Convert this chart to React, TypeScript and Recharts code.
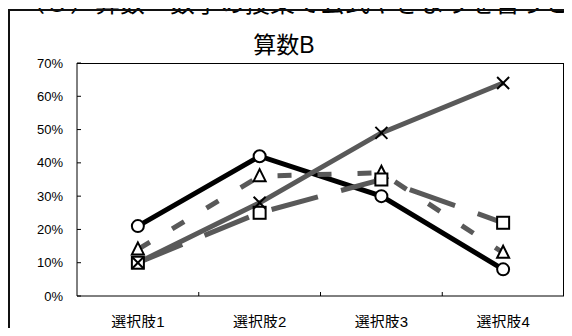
import { LineChart, Line, XAxis, YAxis } from 'recharts'

// 算数B: response rate per choice (%)
const categories = ['選択肢1', '選択肢2', '選択肢3', '選択肢4']
const circleSeries = [21, 42, 30, 8]
const triangleSeries = [14, 36, 37, 13]
const squareSeries = [10, 25, 35, 22]
const crossSeries = [10, 28, 49, 64]
const yTicks = [0, 10, 20, 30, 40, 50, 60, 70]

const data = categories.map((name, i) => ({
  name,
  circle: circleSeries[i],
  triangle: triangleSeries[i],
  square: squareSeries[i],
  cross: crossSeries[i],
}))

const W = 572
const H = 336
const PLOT_LEFT = 77
const PLOT_RIGHT = 564
const PLOT_TOP = 63
const PLOT_BOTTOM = 296
const HALF_BAND = (PLOT_RIGHT - PLOT_LEFT) / categories.length / 2
const FONT = '"Liberation Sans", Arial, "Noto Sans CJK JP", sans-serif'
const GRAY = '#595959'

const YTick = (props: any) => {
  const { y, payload } = props
  return (
    <g>
      <line x1={PLOT_LEFT} x2={PLOT_LEFT + 4} y1={y} y2={y} stroke="#000" strokeWidth={1} />
      <text x={PLOT_LEFT - 14} y={y} textAnchor="end" dominantBaseline="central" fontSize={13} fontFamily={FONT} fill="#000">
        {payload.value}%
      </text>
    </g>
  )
}

const XTick = (props: any) => {
  const { x, payload, index } = props
  return (
    <g>
      {index < categories.length - 1 && (
        <line x1={x + HALF_BAND} x2={x + HALF_BAND} y1={PLOT_BOTTOM} y2={PLOT_BOTTOM - 4} stroke="#000" strokeWidth={1} />
      )}
      <text x={x} y={PLOT_BOTTOM + 25} textAnchor="middle" dominantBaseline="central" fontSize={15} fontFamily={FONT} fill="#000">
        {payload.value}
      </text>
    </g>
  )
}

const CircleDot = (props: any) => {
  const { cx, cy } = props
  return <circle cx={cx} cy={cy} r={6} fill="#fff" stroke="#000" strokeWidth={2} />
}

const TriangleDot = (props: any) => {
  const { cx, cy } = props
  const pts = `${cx},${cy - 7} ${cx - 6},${cy + 5} ${cx + 6},${cy + 5}`
  return <polygon points={pts} fill="#fff" stroke="#000" strokeWidth={2} />
}

const SquareDot = (props: any) => {
  const { cx, cy } = props
  return <rect x={cx - 6} y={cy - 6} width={12} height={12} fill="#fff" stroke="#000" strokeWidth={2} />
}

const CrossDot = (props: any) => {
  const { cx, cy } = props
  return (
    <g stroke="#000" strokeWidth={2}>
      <line x1={cx - 6} y1={cy - 6} x2={cx + 6} y2={cy + 6} />
      <line x1={cx - 6} y1={cy + 6} x2={cx + 6} y2={cy - 6} />
    </g>
  )
}

export default function App() {
  return (
    <div style={{ position: 'relative', width: W, height: H, overflow: 'hidden', margin: -8, background: '#fff' }}>
      <div
        style={{
          position: 'absolute',
          left: 20,
          top: -17,
          fontSize: 25,
          whiteSpace: 'nowrap',
          fontFamily: '"Noto Sans CJK JP", sans-serif',
          color: '#000',
        }}
      >
        （３）算数・数学の授業で公式やきまりを習うとき，その
      </div>
      <div
        style={{
          position: 'absolute',
          left: 8,
          top: 9,
          width: 700,
          height: 500,
          border: '2px solid #111',
        }}
      />
      <div
        style={{
          position: 'absolute',
          left: 0,
          width: 568,
          top: 30,
          textAlign: 'center',
          fontSize: 23,
          lineHeight: '30px',
          fontFamily: '"Liberation Sans", Arial, "Noto Sans CJK JP", sans-serif',
          color: '#000',
        }}
      >
        算数B
      </div>
      <div style={{ position: 'absolute', left: 0, top: 0 }}>
        <LineChart width={W} height={H} data={data} margin={{ top: PLOT_TOP, right: W - PLOT_RIGHT, bottom: 0, left: 0 }}>
          <XAxis
            dataKey="name"
            scale="band"
            height={H - PLOT_BOTTOM}
            interval={0}
            tickLine={false}
            axisLine={{ stroke: '#000', strokeWidth: 1 }}
            tick={<XTick />}
          />
          <YAxis
            domain={[0, 70]}
            ticks={yTicks}
            width={PLOT_LEFT}
            interval={0}
            tickLine={false}
            axisLine={{ stroke: '#000', strokeWidth: 1 }}
            tick={<YTick />}
          />
          <Line dataKey="circle" stroke="#000" strokeWidth={5} dot={<CircleDot />} activeDot={false} isAnimationActive={false} />
          <Line dataKey="triangle" stroke={GRAY} strokeWidth={5} strokeDasharray="14 26" dot={<TriangleDot />} activeDot={false} isAnimationActive={false} />
          <Line dataKey="square" stroke={GRAY} strokeWidth={5} strokeDasharray="48 24" dot={<SquareDot />} activeDot={false} isAnimationActive={false} />
          <Line dataKey="cross" stroke={GRAY} strokeWidth={5} dot={<CrossDot />} activeDot={false} isAnimationActive={false} />
        </LineChart>
      </div>
      <div
        style={{
          position: 'absolute',
          left: PLOT_LEFT,
          top: PLOT_TOP,
          width: PLOT_RIGHT - PLOT_LEFT,
          height: PLOT_BOTTOM - PLOT_TOP,
          border: '1px solid #000',
          borderLeft: 'none',
          borderBottom: 'none',
          boxSizing: 'border-box',
          pointerEvents: 'none',
        }}
      />
    </div>
  )
}
